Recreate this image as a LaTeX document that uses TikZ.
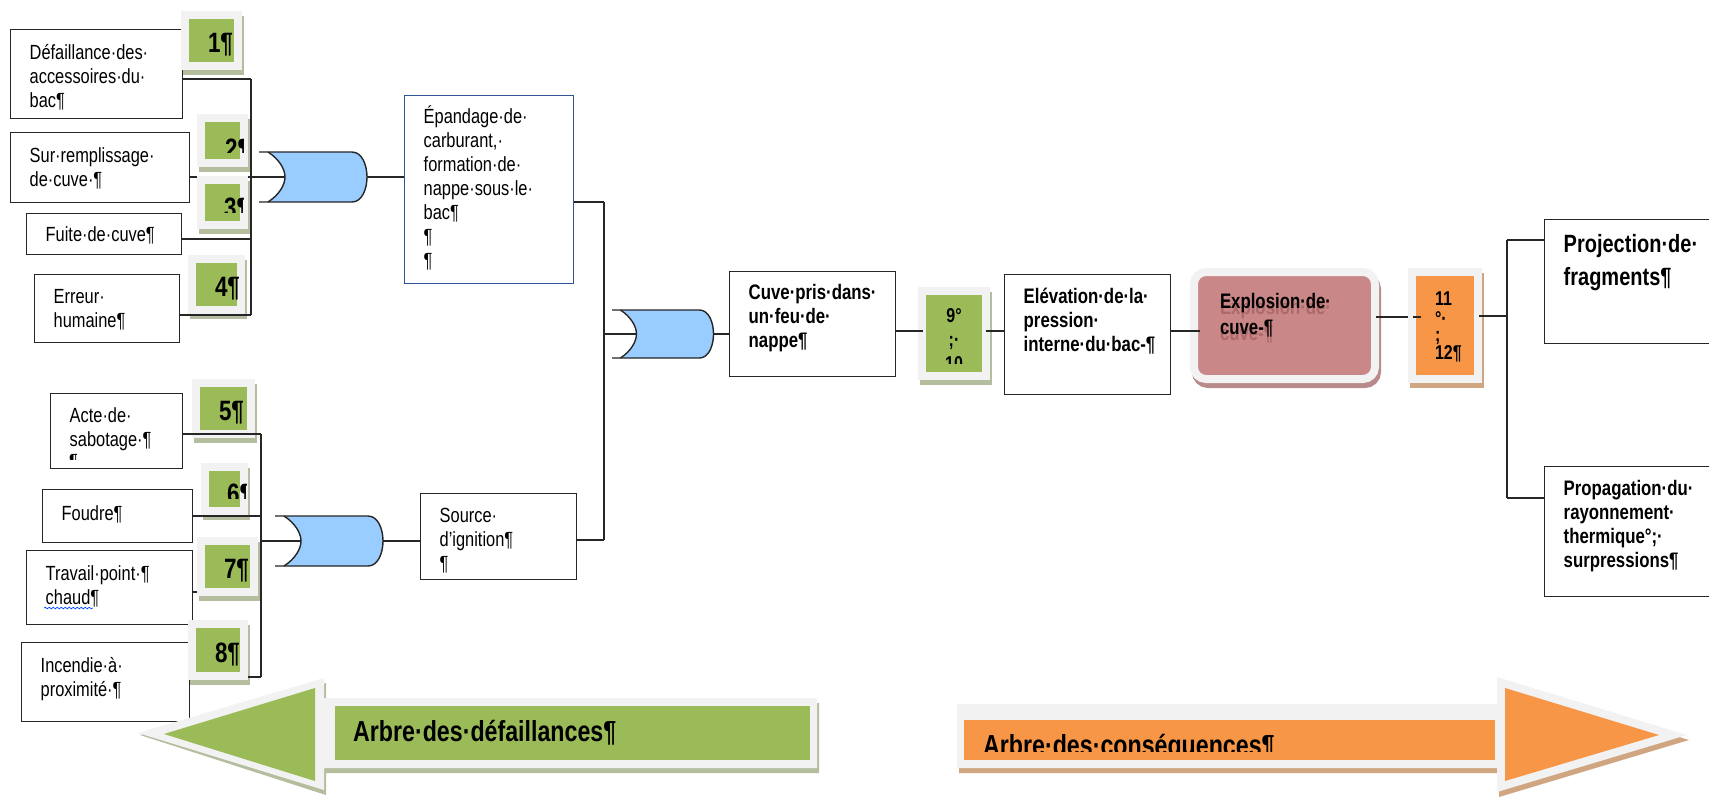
\documentclass[tikz,border=0pt]{standalone}
\usepackage{fontspec}
\setmainfont[FakeStretch=0.8]{Liberation Sans}
\usetikzlibrary{snakes,calc}

\definecolor{trait}{HTML}{262626}
\definecolor{cadreg}{HTML}{F2F2F2}
\definecolor{vertfond}{HTML}{9BBB59}
\definecolor{vertombre}{HTML}{B4BE9E}
\definecolor{orangefond}{HTML}{F79646}
\definecolor{orangeombre}{HTML}{D0A680}
\definecolor{rosefond}{HTML}{C98787}
\definecolor{roseombre}{HTML}{B88A8A}
\definecolor{rosetexte}{HTML}{AE6A6A}
\definecolor{bleuporte}{HTML}{99CCFF}
\definecolor{bleucadre}{HTML}{2F5597}

\newcommand{\cadre}[4][12]{\parbox[c][#3pt][t]{#2pt}{\raggedright\leftskip=19pt\vspace*{#1pt}\strut #4}}
\newcommand{\numero}[2]{\makebox[#1pt][l]{\hspace{23pt}\raisebox{-12pt}[0pt][0pt]{#2}}}
\newcommand{\fantome}[1]{\leavevmode\rlap{\raisebox{-6pt}[0pt][0pt]{\color{rosetexte}#1}}#1}

\tikzset{
	fil/.style={draw=trait, line width=1.4pt},
	boite/.style={rectangle, draw=trait, line width=1.4pt, anchor=north west, inner sep=0pt, font=\fontsize{20.5}{24}\selectfont},
	boitegras/.style={boite, font=\fontsize{21}{24}\selectfont\bfseries},
	pastille/.style n args={4}{rectangle, fill=#3, draw=cadreg, line width=8pt, anchor=north west, inner sep=0pt,
		minimum width=#1pt, minimum height=#2pt, font=\fontsize{28}{30}\selectfont\bfseries,
		preaction={draw=#4, transform canvas={shift={(2pt,-5pt)}}}},
	pastv/.style 2 args={pastille={#1}{#2}{vertfond}{vertombre}},
	pasto/.style 2 args={pastille={#1}{#2}{orangefond}{orangeombre}},
	chiffre/.style={anchor=base west, inner sep=0pt, font=\fontsize{28}{30}\selectfont\bfseries},
	porte/.pic={
		\fill[bleuporte] (9,-25) .. controls (20,-18) and (26,-8) .. (26,0) .. controls (26,8) and (20,18) .. (9,25) -- (93,25) .. controls (103,25) and (108,12) .. (108,0) .. controls (108,-12) and (103,-25) .. (93,-25) -- cycle;
		\draw[fil] (0,-25) -- (93,-25) .. controls (103,-25) and (108,-12) .. (108,0) .. controls (108,12) and (103,25) .. (93,25) -- (0,25);
		\draw[fil] (9,-25) .. controls (20,-18) and (26,-8) .. (26,0) .. controls (26,8) and (20,18) .. (9,25);
		\coordinate (-in) at (26,0);
		\coordinate (-out) at (108,0);
	},
}

\begin{document}
\begin{tikzpicture}[x=1pt, y=-1pt]
		\clip (0,0) rectangle (1709,796);

		\path (10,29) node[boite] (defail) {\cadre[13]{172}{89}{Défaillance·des·\\accessoires·du·\\bac¶}}
			(10,132) node[boite] (surrem) {\cadre[13]{179}{70}{Sur·remplissage·\\de·cuve·¶}}
			(26,213) node[boite] (fuite) {\cadre[11]{155}{41}{Fuite·de·cuve¶}}
			(34,274) node[boite] (erreur) {\cadre{145}{68}{Erreur·\\humaine¶}}
			(50,393) node[boite] (acte) {\cadre{132}{75}{Acte·de·\\sabotage·¶}}
			(42,489) node[boite] (foudre) {\cadre[14]{150}{53}{Foudre¶}}
			(26,550) node[boite] (travail) {\cadre[13]{166}{74}{Travail·point·¶\\chaud¶}}
			(21,642) node[boite] (incendie) {\cadre[13]{168}{79}{Incendie·à·\\proximité·¶}}
			(404,95) node[boite, draw=bleucadre] (epandage) {\cadre[10]{169}{188}{Épandage·de·\\carburant,·\\formation·de·\\nappe·sous·le·\\bac¶\\¶\\¶}}
			(420,493) node[boite] (source) {\cadre{156}{86}{Source·\\d’ignition¶\\¶}}
			(729,271) node[boitegras] (cuve) {\cadre[11]{166}{105}{Cuve·pris·dans·\\un·feu·de·\\nappe¶}}
			(1004,274) node[boitegras] (elevation) {\cadre{166}{120}{Elévation·de·la·\\pression·\\interne·du·bac-¶}}
			(1544,219) node[boitegras, font=\fontsize{25}{33}\selectfont\bfseries] (projection) {\cadre[10]{176}{124}{Projection·de·\\fragments¶}}
			(1544,466) node[boitegras] (propagation) {\cadre{176}{130}{Propagation·du·\\rayonnement·\\thermique°;·\\surpressions¶}};

		\begin{scope}
			\clip (60,450) rectangle (90,459);
			\node[anchor=base west, inner sep=0pt, font=\fontsize{20.5}{24}\selectfont] (acteplus) at (69,468) {¶};
		\end{scope}
		\draw[blue!70!cyan, line width=.7pt, snake=snake, segment amplitude=.8pt, segment length=4pt] (44,608) -- (93,608);

		\path (181,11) node[pastv={53}{51}] (un) {\numero{53}{1¶}}
			(197,114) node[pastv={43}{45}] (deux) {}
			(197,176) node[pastv={43}{45}] (trois) {}
			(188,255) node[pastv={49}{51}] (quatre) {\numero{49}{4¶}}
			(192,379) node[pastv={55}{51}] (cinq) {\numero{55}{5¶}}
			(201,463) node[pastv={39}{44}] (six) {}
			(197,537) node[pastv={53}{51}] (sept) {\numero{53}{7¶}}
			(188,620) node[pastv={52}{52}] (huit) {\numero{52}{8¶}}
			(918,287) node[pastv={64}{85}] (neuf) {}
			(1408,268) node[pasto={66}{107}, font=\fontsize{20}{16}\selectfont\bfseries] (onze) {\cadre[20]{66}{107}{\leftskip=23pt 11\\°·\\;\\12¶}}
			(1190,268) node[pastille={181}{107}{rosefond}{roseombre}, rounded corners=12pt, font=\fontsize{21}{26}\selectfont\bfseries] (explosion) {\cadre[18]{181}{107}{\leftskip=26pt \fantome{Explosion·de·}\\\fantome{cuve-¶}}};

		\begin{scope}
			\clip (205,122) rectangle (243,152);
			\node[chiffre] (deuxtxt) at (225,158) {2¶};
		\end{scope}
		\begin{scope}
			\clip (205,184) rectangle (243,212);
			\node[chiffre] (troistxt) at (224,217) {3¶};
		\end{scope}
		\begin{scope}
			\clip (209,471) rectangle (246,498);
			\node[chiffre] (sixtxt) at (227,503) {6¶};
		\end{scope}
		\begin{scope}
			\clip (926,295) rectangle (982,363);
			\node[anchor=north, inner sep=0pt, align=center, font=\fontsize{20}{24}\selectfont\bfseries] (neuftxt) at (954,308) {9°\\;·\\10};
		\end{scope}

		\pic (porteA) at (259,177) {porte};
		\pic (porteB) at (275,541) {porte};
		\pic[xscale=.94, yscale=.96] (porteC) at (612,334) {porte};

		\coordinate (busA1) at (251,79);
		\coordinate (busA2) at (251,177);
		\coordinate (busA3) at (251,239);
		\coordinate (busA4) at (251,315);
		\coordinate (busB1) at (261,434);
		\coordinate (busB2) at (261,516);
		\coordinate (busB3) at (261,592);
		\coordinate (busB4) at (261,677);
		\coordinate (busC1) at (604,202);
		\coordinate (busC2) at (604,540);
		\coordinate (busC3) at (604,334);
		\coordinate (busD1) at (1507,240);
		\coordinate (busD2) at (1507,316);
		\coordinate (busD3) at (1507,498);
		\coordinate (ligneC) at (900,331);
		\coordinate (ligneE) at (1200,331);
		\coordinate (ligneF) at (1376,317);
		\coordinate (ligneG) at (1413,317);
		\coordinate (ligneH) at (1421,317);

		\draw[fil] (defail.east |- busA1) -- (busA1);
		\draw[fil] (busA1) -- (busA4);
		\draw[fil] (surrem.east |- busA2) -- (197,177);
		\draw[fil] (248,177) -- (porteA-in);
		\draw[fil] (fuite.east |- busA3) -- (busA3);
		\draw[fil] (erreur.east |- busA4) -- (busA4);
		\draw[fil] (acte.east |- busB1) -- (busB1);
		\draw[fil] (busB1) -- (busB4);
		\draw[fil] (foudre.east |- busB2) -- (busB2);
		\draw[fil] (travail.east |- busB3) -- (sept.west |- busB3);
		\draw[fil] (huit.east |- busB4) -- (busB4);
		\draw[fil] (261,541) -- (porteB-in);
		\draw[fil] (porteA-out) -- (epandage.west |- porteA-out);
		\draw[fil, line width=2.4pt] (porteB-out) -- (source.west |- porteB-out);
		\draw[fil] (epandage.east |- busC1) -- (busC1);
		\draw[fil] (busC1) -- (busC2);
		\draw[fil] (source.east |- busC2) -- (busC2);
		\draw[fil] (busC3) -- (porteC-in);
		\draw[fil] (porteC-out) -- (cuve.west |- porteC-out);
		\draw[fil] (cuve.east |- ligneC) -- (923,331);
		\draw[fil] (986,331) -- (elevation.west |- ligneC);
		\draw[fil] (elevation.east |- ligneE) -- (ligneE);
		\draw[fil] (ligneF) -- (onze.west |- ligneF);
		\draw[fil] (ligneG) -- (ligneH);
		\draw[fil] (1479,316) -- (busD2);
		\draw[fil] (busD1) -- (busD3);
		\draw[fil] (busD1) -- (projection.west |- busD1);
		\draw[fil] (busD3) -- (propagation.west |- busD3);

		\fill[vertombre] (140,735) -- (326,683) -- (326,703) -- (819,703) -- (819,773) -- (326,773) -- (326,795) -- cycle;
		\fill[cadreg] (138,733) -- (324,678) -- (324,698) -- (817,698) -- (817,768) -- (324,768) -- (324,790) -- cycle;
		\fill[vertfond] (164,734) -- (315,688) -- (315,781) -- cycle;
		\path (335,706) node[rectangle, fill=vertfond, anchor=north west, inner sep=0pt, minimum width=475pt, minimum height=54pt, font=\fontsize{29}{32}\selectfont\bfseries] (arbredef) {\makebox[475pt][l]{\hspace{18pt}Arbre·des·défaillances¶}};

		\fill[orangeombre] (959,709) -- (1499,709) -- (1499,682) -- (1689,740) -- (1499,797) -- (1499,773) -- (959,773) -- cycle;
		\fill[cadreg] (957,704) -- (1497,704) -- (1497,677) -- (1687,735) -- (1497,792) -- (1497,768) -- (957,768) -- cycle;
		\fill[orangefond] (1505,688) -- (1659,735) -- (1505,781) -- cycle;
		\path (964,720) node[rectangle, fill=orangefond, anchor=north west, inner sep=0pt, minimum width=531pt, minimum height=40pt] (arbrecons) {};
		\begin{scope}
			\clip (964,720) rectangle (1495,751);
			\node[anchor=base west, inner sep=0pt, font=\fontsize{29}{32}\selectfont\bfseries] (arbreconstxt) at (983,755) {Arbre·des·conséquences¶};
		\end{scope}
	\end{tikzpicture}
\end{document}
